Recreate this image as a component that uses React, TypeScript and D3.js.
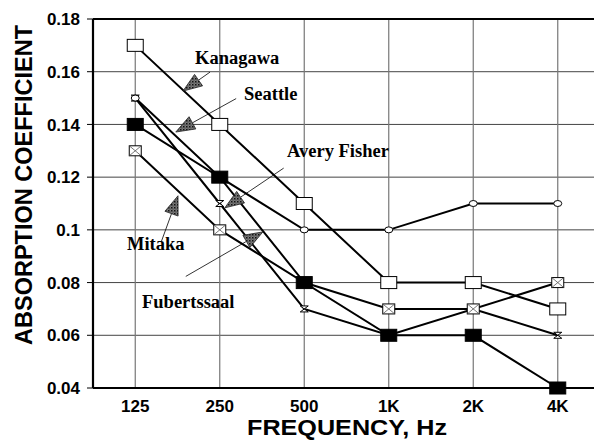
import React from "react";
import * as d3 from "d3";

const categories = ["125", "250", "500", "1K", "2K", "4K"];
const kanagawa = [0.17, 0.14, 0.11, 0.08, 0.08, 0.07];
const seattle = [0.15, 0.12, 0.10, 0.10, 0.11, 0.11];
const averyFisher = [0.15, 0.11, 0.07, 0.06, 0.07, 0.06];
const mitaka = [0.13, 0.10, 0.08, 0.07, 0.07, 0.08];
const fubertssaal = [0.14, 0.12, 0.08, 0.06, 0.06, 0.04];
const yTicks = [0.04, 0.06, 0.08, 0.1, 0.12, 0.14, 0.16, 0.18];
const yTickLabels = ["0.04", "0.06", "0.08", "0.1", "0.12", "0.14", "0.16", "0.18"];

type Marker = "open" | "filled" | "crossed" | "circle" | "hourglass";
const seriesList: { name: string; values: number[]; marker: Marker }[] = [
  { name: "Avery Fisher", values: averyFisher, marker: "hourglass" },
  { name: "Seattle", values: seattle, marker: "circle" },
  { name: "Mitaka", values: mitaka, marker: "crossed" },
  { name: "Fubertssaal", values: fubertssaal, marker: "filled" },
  { name: "Kanagawa", values: kanagawa, marker: "open" },
];

// annotation: which series, segment, fraction along segment, arrow direction & leader
const annotations = [
  { label: "Kanagawa", series: "Kanagawa", seg: 0, t: 0.565, tipDy: 1, angle: -35, leader: 14, tx: 195, ty: 64 },
  { label: "Seattle", series: "Seattle", seg: 0, t: 0.48, tipDy: -4, angle: -29, leader: 50, tx: 244, ty: 100 },
  { label: "Avery Fisher", series: "Avery Fisher", seg: 1, t: 0.06, tipDy: -2, angle: -34, leader: 52, tx: 287, ty: 157 },
  { label: "Mitaka", series: "Mitaka", seg: 0, t: 0.506, tipDy: 5, angle: 110, leader: 30, tx: 127, ty: 250 },
  { label: "Fubertssaal", series: "Fubertssaal", seg: 1, t: 0.51, tipDy: 1, angle: 150, leader: 70, tx: 142, ty: 308 },
];

const W = 594;
const H = 440;
const left = 93;
const right = 600;
const top = 19;
const bottom = 388;

export default function App() {
  const x = d3.scalePoint<string>().domain(categories).range([left, right]).padding(0.5);
  const y = d3.scaleLinear().domain([0.04, 0.18]).range([bottom, top]);
  const line = d3
    .line<number>()
    .x((_, i) => x(categories[i]) as number)
    .y((d) => y(d));

  const sans = "'Liberation Sans', Arial, sans-serif";
  const serif = "'Liberation Serif', 'Times New Roman', serif";

  const drawMarker = (m: Marker, cx: number, cy: number, key: string) => {
    switch (m) {
      case "open":
        return <rect key={key} x={cx - 8} y={cy - 6} width={16} height={12} fill="#fff" stroke="#000" strokeWidth={1} />;
      case "filled":
        return <rect key={key} x={cx - 8} y={cy - 6} width={16} height={12} fill="#000" stroke="#000" strokeWidth={1} />;
      case "crossed":
        return (
          <g key={key}>
            <rect x={cx - 6} y={cy - 5} width={12} height={10} fill="#fff" stroke="#000" strokeWidth={1} />
            <path d={`M${cx - 6},${cy - 5}L${cx + 6},${cy + 5}M${cx + 6},${cy - 5}L${cx - 6},${cy + 5}`} stroke="#555" strokeWidth={0.8} />
          </g>
        );
      case "circle":
        return <ellipse key={key} cx={cx} cy={cy} rx={4} ry={3} fill="#fff" stroke="#000" strokeWidth={1} />;
      case "hourglass":
        return (
          <path
            key={key}
            d={`M${cx - 4},${cy - 3}L${cx + 4},${cy - 3}L${cx - 4},${cy + 3}L${cx + 4},${cy + 3}Z`}
            fill="#fff"
            stroke="#000"
            strokeWidth={1}
          />
        );
    }
  };

  return (
    <svg width={W} height={H} style={{ position: "absolute", left: 0, top: 0, background: "#fff" }}>
      <defs>
        <pattern id="hatch" width="3" height="3" patternUnits="userSpaceOnUse">
          <rect width="3" height="3" fill="#7a7a7a" />
          <rect width="1.5" height="1.5" fill="#111" />
          <rect x="1.5" y="1.5" width="1" height="1" fill="#333" />
        </pattern>
      </defs>
      <rect width={W} height={H} fill="#fff" />
      {/* grid */}
      {yTicks.slice(1, -1).map((t) => (
        <line key={"h" + t} x1={left} x2={right} y1={y(t)} y2={y(t)} stroke="#444" strokeWidth={1} />
      ))}
      {categories.map((c) => (
        <line key={"v" + c} x1={x(c)} x2={x(c)} y1={top} y2={bottom} stroke="#777" strokeWidth={1.2} />
      ))}
      {/* axes */}
      <line x1={left} x2={right} y1={top} y2={top} stroke="#000" strokeWidth={2.2} />
      <line x1={left} x2={right} y1={bottom} y2={bottom} stroke="#000" strokeWidth={2.2} />
      <line x1={left} x2={left} y1={top} y2={bottom} stroke="#000" strokeWidth={2.2} />
      {yTicks.map((t, i) => (
        <g key={"yt" + t}>
          <line x1={left - 6} x2={left} y1={y(t)} y2={y(t)} stroke="#000" strokeWidth={1} />
          <text x={80} y={y(t)} dy="0.36em" textAnchor="end" fontFamily={sans} fontWeight="bold" fontSize={17}>
            {yTickLabels[i]}
          </text>
        </g>
      ))}
      {categories.map((c) => (
        <text key={"xt" + c} x={x(c)} y={412} textAnchor="middle" fontFamily={sans} fontWeight="bold" fontSize={17}>
          {c}
        </text>
      ))}
      <text x={347} y={435} textAnchor="middle" fontFamily={sans} fontWeight="bold" fontSize={22} textLength={200} lengthAdjust="spacingAndGlyphs">
        FREQUENCY, Hz
      </text>
      <text
        transform={`translate(32,185) rotate(-90)`}
        textAnchor="middle"
        fontFamily={sans}
        fontWeight="bold"
        fontSize={24}
        textLength={320}
        lengthAdjust="spacingAndGlyphs"
      >
        ABSORPTION COEFFICIENT
      </text>
      {/* lines */}
      {seriesList.map((s) => (
        <path key={"l" + s.name} d={line(s.values) || ""} fill="none" stroke="#000" strokeWidth={2} />
      ))}
      {/* markers */}
      {seriesList.map((s) =>
        s.values.map((v, i) => drawMarker(s.marker, x(categories[i]) as number, y(v), s.name + i))
      )}
      {/* annotations */}
      {annotations.map((a) => {
        const s = seriesList.find((q) => q.name === a.series)!;
        const x0 = x(categories[a.seg]) as number;
        const x1 = x(categories[a.seg + 1]) as number;
        const tx = x0 + (x1 - x0) * a.t;
        const ty = y(s.values[a.seg] + (s.values[a.seg + 1] - s.values[a.seg]) * a.t) + a.tipDy;
        const rad = (a.angle * Math.PI) / 180;
        const ux = Math.cos(rad);
        const uy = Math.sin(rad);
        const len = 19;
        const hw = 7;
        const bx = tx + ux * len;
        const by = ty + uy * len;
        const px = -uy;
        const py = ux;
        const pts = `${tx},${ty} ${bx + px * hw},${by + py * hw} ${bx - px * hw},${by - py * hw}`;
        return (
          <g key={"a" + a.label}>
            <line x1={bx} y1={by} x2={bx + ux * a.leader} y2={by + uy * a.leader} stroke="#000" strokeWidth={0.8} />
            <polygon points={pts} fill="url(#hatch)" stroke="#222" strokeWidth={0.8} />
            <text x={a.tx} y={a.ty} fontFamily={serif} fontWeight="bold" fontSize={18.5}>
              {a.label}
            </text>
          </g>
        );
      })}
    </svg>
  );
}
